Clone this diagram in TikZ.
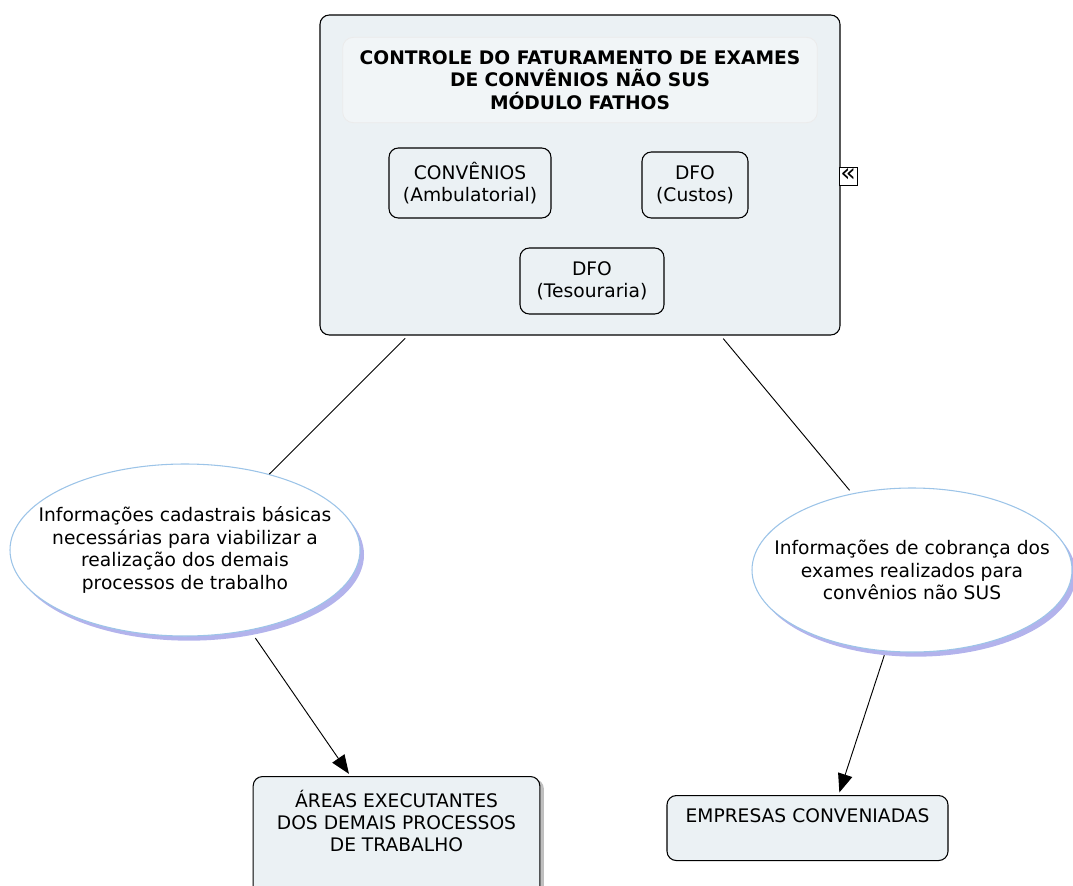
\documentclass[tikz,border=0pt]{standalone}
\usepackage{fontspec}
\setmainfont{DejaVu Sans}
\usetikzlibrary{arrows.meta,shapes.geometric,shadows,calc}

\definecolor{boxfill}{HTML}{EBF1F4}
\definecolor{ellline}{HTML}{9CC4E8}
\definecolor{ellshade}{HTML}{B3B3EC}

\begin{document}
\begin{tikzpicture}[x=0.75pt,y=-0.75pt,
    every node/.style={font=\fontsize{14}{16.8}\selectfont},
    box/.style={draw,rounded corners=7pt,fill=boxfill,line width=0.8pt,align=center},
    info/.style={ellipse,draw=ellline,fill=white,line width=0.8pt,inner sep=0pt,
        drop shadow={shadow xshift=3pt,shadow yshift=-3.5pt,fill=ellshade,opacity=1}},
    link/.style={line width=0.7pt},
    arrowlink/.style={link,-{Triangle[length=14pt,width=11pt]}}]
    \useasboundingbox (0,0) rectangle (1073,885);
    % main module
    \node[box,minimum width=390pt,minimum height=240pt] (main) at (580,175) {};
    \node[rounded corners=8pt,draw=white!92!black,fill=white!30!boxfill,line width=0.6pt,
        minimum width=356pt,minimum height=64pt,align=center,
        font=\fontsize{14}{16.8}\bfseries\selectfont] (title) at (580,80)
        {CONTROLE DO FATURAMENTO DE EXAMES\\DE CONVÊNIOS NÃO SUS\\MÓDULO FATHOS};
    \node[box,minimum width=121.5pt,minimum height=52.5pt] (conv) at (470,183)
        {CONVÊNIOS\\(Ambulatorial)};
    \node[box,minimum width=79.5pt,minimum height=49.5pt] (custos) at (695,185)
        {DFO\\(Custos)};
    \node[box,minimum width=108pt,minimum height=49.5pt] (tes) at (592,281)
        {DFO\\(Tesouraria)};
    \node[draw,fill=white,line width=0.6pt,minimum size=13.5pt,inner sep=0pt,
        font=\fontsize{19}{19}\selectfont] (collapse) at (848,176) {\raisebox{1pt}{«}};
    % information flows
    \node[info,minimum width=262.5pt,minimum height=129pt,
        label={[align=center]center:Informações cadastrais básicas\\necessárias para viabilizar a\\realização dos demais\\processos de trabalho}]
        (leftinfo) at (185,550) {};
    \node[info,minimum width=240pt,minimum height=123pt,
        label={[align=center]center:Informações de cobrança dos\\exames realizados para\\convênios não SUS}]
        (rightinfo) at (912,570) {};
    % receivers
    \node[box,anchor=north,minimum width=215pt,inner ysep=10pt,
        drop shadow={shadow xshift=3pt,shadow yshift=-2pt,fill=black!25,opacity=1}] (areas) at (396.5,776)
        {ÁREAS EXECUTANTES\\DOS DEMAIS PROCESSOS\\DE TRABALHO\\\rule{0pt}{50pt}};
    \node[box,anchor=north,minimum width=210.75pt,inner ysep=4pt,text height=16pt,text depth=24.75pt]
        (empresas) at (807.5,795) {EMPRESAS CONVENIADAS};
    % connectors
    \draw[link,shorten <=3pt] ($(main.south west)!0.17!(main.south east)$) -- (leftinfo.42);
    \draw[link,shorten <=3pt,shorten >=3pt] ($(main.south west)!0.77!(main.south east)$) -- (rightinfo.128);
    \draw[arrowlink,shorten <=7pt,shorten >=2pt] (leftinfo.-51) -- ($(areas.north west)!0.34!(areas.north east)$);
    \draw[arrowlink,shorten <=3pt,shorten >=2pt] (rightinfo.-108) -- ($(empresas.north west)!0.61!(empresas.north east)$);
\end{tikzpicture}
\end{document}
